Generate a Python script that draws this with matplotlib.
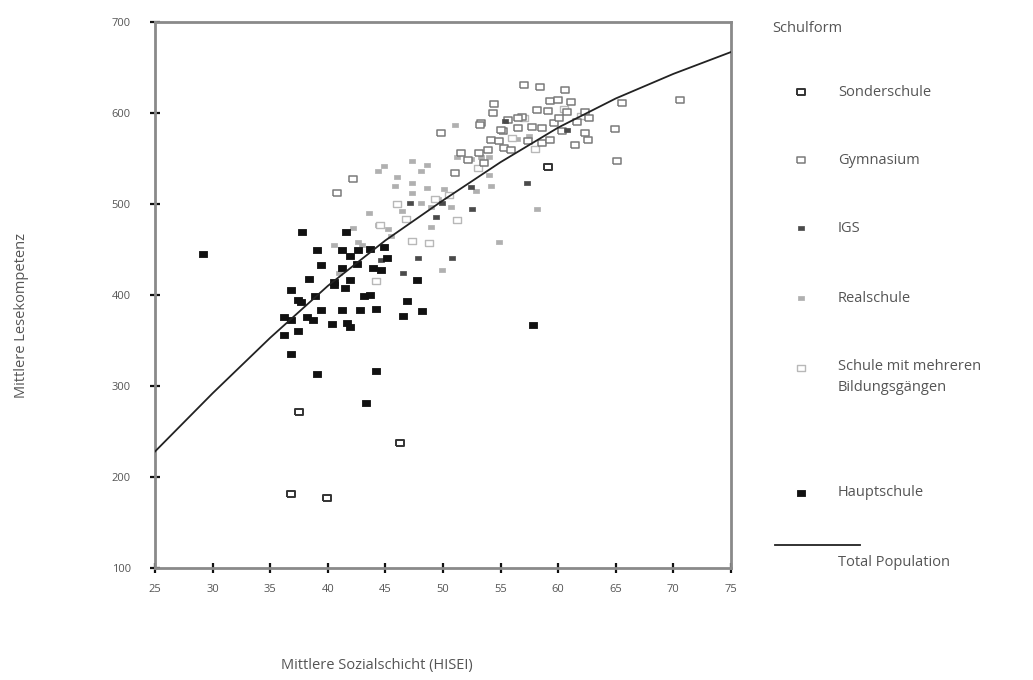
import matplotlib
matplotlib.use("Agg")
import matplotlib.pyplot as plt
from matplotlib.lines import Line2D

plt.rcParams['font.family'] = ['Open Sans', 'DejaVu Sans']

# ---------------- data ----------------
haupt_x = [29.2, 37.8, 41.6, 39.1, 41.2, 41.9, 42.6, 43.7, 44.9, 45.1, 39.4, 41.2, 42.5, 43.9,
           44.6, 38.4, 40.5, 41.9, 47.7, 36.8, 37.4, 37.7, 38.9, 40.5, 41.5, 43.1, 43.7, 46.9,
           36.2, 36.8, 38.2, 38.7, 39.4, 40.4, 41.2, 41.7, 41.9, 42.8, 44.2, 46.5, 48.2, 36.2,
           37.4, 36.8, 39.1, 44.2, 43.3, 57.8]
haupt_y = [445, 469, 469, 450, 449, 443, 450, 451, 453, 441, 433, 430, 434, 430,
           427, 418, 414, 417, 417, 405, 395, 392, 399, 411, 408, 399, 400, 393,
           376, 373, 376, 373, 384, 368, 384, 369, 365, 383, 385, 377, 382, 356,
           360, 335, 313, 316, 281, 367]

igs_x = [46.5, 47.8, 50.8, 49.4, 49.9, 52.5, 52.4, 57.3, 47.1, 55.4, 60.8, 44.6]
igs_y = [424, 441, 441, 486, 501, 494, 519, 523, 501, 591, 581, 438]

real_x = [44.9, 44.4, 47.3, 48.1, 48.6, 45.8, 47.3, 48.6, 47.3, 43.6, 46.4, 46.8, 48.1, 49.0,
          49.6, 49.0, 44.4, 45.2, 48.7, 49.9, 54.9, 58.2, 51.0, 54.0, 54.2, 52.9, 50.1, 42.6,
          41.0, 42.2, 51.2, 52.4, 53.3, 54.0, 56.4, 55.9, 57.5, 50.7, 43.0, 40.5, 45.5, 46.0]
real_y = [542, 536, 547, 536, 543, 520, 523, 518, 512, 490, 492, 483, 501, 497,
          505, 475, 477, 472, 457, 428, 458, 494, 587, 532, 520, 514, 516, 458,
          424, 474, 552, 550, 552, 552, 571, 560, 575, 497, 455, 455, 465, 530]

gym_x = [57.0, 58.4, 60.6, 54.4, 54.3, 59.3, 60.0, 61.1, 65.5, 70.6, 53.3, 55.6, 56.9, 58.2,
         59.1, 60.8, 62.3, 55.2, 56.5, 57.7, 58.6, 59.6, 62.3, 62.6, 64.9, 54.2, 54.9, 57.4,
         58.6, 59.3, 60.3, 61.5, 55.3, 55.9, 65.1, 49.8, 53.2, 55.0, 51.6, 52.2, 53.1, 53.6,
         53.9, 51.0, 42.2, 40.8, 56.5, 60.1, 61.6, 62.7]
gym_y = [631, 629, 625, 610, 600, 613, 614, 612, 611, 614, 589, 592, 596, 603,
         602, 601, 601, 580, 583, 585, 583, 589, 578, 570, 582, 570, 569, 569,
         567, 570, 580, 565, 561, 559, 547, 578, 587, 581, 556, 548, 556, 545,
         559, 534, 527, 512, 594, 595, 590, 595]

sonder_x = [37.5, 36.8, 39.9, 46.3, 59.1]
sonder_y = [271, 181, 177, 237, 541]

mehr_x = [44.2, 47.3, 48.8, 44.5, 51.2, 49.3, 46.8, 50.5, 56.0, 58.0, 62.0, 60.5, 57.0, 53.0, 46.0]
mehr_y = [415, 459, 457, 477, 482, 505, 483, 510, 572, 560, 597, 604, 595, 540, 500]

total_x = [25, 30, 35, 40, 45, 50, 55, 60, 65, 70, 75]
total_y = [228, 292, 353, 410, 460, 504, 546, 584, 616, 643, 667]

x_ticks = [25, 30, 35, 40, 45, 50, 55, 60, 65, 70, 75]
y_ticks = [100, 200, 300, 400, 500, 600, 700]

legend_labels = ["Sonderschule", "Gymnasium", "IGS", "Realschule",
                 "Schule mit mehreren\nBildungsgängen", "Hauptschule"]

# ---------------- style ----------------
rect = [(-1, -0.75), (1, -0.75), (1, 0.75), (-1, 0.75), (-1, -0.75)]
TXT = '#555555'

fig = plt.figure(figsize=(10.33, 6.80), dpi=100)
ax = fig.add_axes([155/1033, 1-568/680, (731-155)/1033, (568-22)/680])

styles = {
    'Sonderschule': dict(marker=rect, ms=5.6, mfc='white', mec='#333333', mew=1.4),
    'Gymnasium': dict(marker=rect, ms=5.6, mfc='white', mec='#7a7a7a', mew=1.1),
    'IGS': dict(marker=rect, ms=4.6, mfc='#4a4a4a', mec='#4a4a4a', mew=0.5),
    'Realschule': dict(marker=rect, ms=4.6, mfc='#b0b0b0', mec='#b0b0b0', mew=0.5),
    'mehr': dict(marker=rect, ms=5.4, mfc='white', mec='#b8b8b8', mew=1.0),
    'Hauptschule': dict(marker=rect, ms=5.2, mfc='#111111', mec='#111111', mew=0.6),
}

ax.plot(real_x, real_y, ls='none', zorder=3, **styles['Realschule'])
ax.plot(mehr_x, mehr_y, ls='none', zorder=3, **styles['mehr'])
ax.plot(gym_x, gym_y, ls='none', zorder=4, **styles['Gymnasium'])
ax.plot(igs_x, igs_y, ls='none', zorder=5, **styles['IGS'])
ax.plot(haupt_x, haupt_y, ls='none', zorder=5, **styles['Hauptschule'])
ax.plot(sonder_x, sonder_y, ls='none', zorder=5, **styles['Sonderschule'])
ax.plot(total_x, total_y, color='#222222', lw=1.3, zorder=6)

ax.set_xlim(25, 75)
ax.set_ylim(100, 700)
ax.set_xticks(x_ticks)
ax.set_yticks(y_ticks)
for s in ax.spines.values():
    s.set_color('#8a8a8a')
    s.set_linewidth(2.0)
ax.tick_params(direction='inout', length=7, width=1.6, color='#111111',
               labelsize=8, labelcolor=TXT)
ax.tick_params(axis='x', pad=8)
ax.tick_params(axis='y', pad=14)
ax.tick_params(top=False, right=False)

fig.text(377/1033, 1-665/680, "Mittlere Sozialschicht (HISEI)", ha='center', va='center',
         fontsize=10.5, color=TXT)
fig.text(22/1033, 1-315/680, "Mittlere Lesekompetenz", ha='center', va='center',
         rotation=90, fontsize=10.5, color=TXT)

# ---------------- legend (manual, pixel coordinates) ----------------
lg = fig.add_axes([0, 0, 1, 1], zorder=10)
lg.set_xlim(0, 1033)
lg.set_ylim(680, 0)
lg.axis('off')
lg.patch.set_alpha(0)
lg.text(772, 28, "Schulform", ha='left', va='center', fontsize=10.5, color=TXT)
row_y = [92, 160, 228, 298, 368, 493]
keys = ['Sonderschule', 'Gymnasium', 'IGS', 'Realschule', 'mehr', 'Hauptschule']
for yy, key, lab in zip(row_y, keys, legend_labels):
    lg.add_line(Line2D([801], [yy], ls='none', **styles[key]))
    if '\n' in lab:
        lg.text(838, yy - 9, lab, ha='left', va='top', fontsize=10.5, color=TXT, linespacing=1.55)
    else:
        lg.text(838, yy, lab, ha='left', va='center', fontsize=10.5, color=TXT)
lg.add_line(Line2D([775, 860], [545, 545], color='#222222', lw=1.3))
lg.text(838, 562, "Total Population", ha='left', va='center', fontsize=10.5, color=TXT)

fig.savefig("out.png", dpi=100, facecolor='white')
